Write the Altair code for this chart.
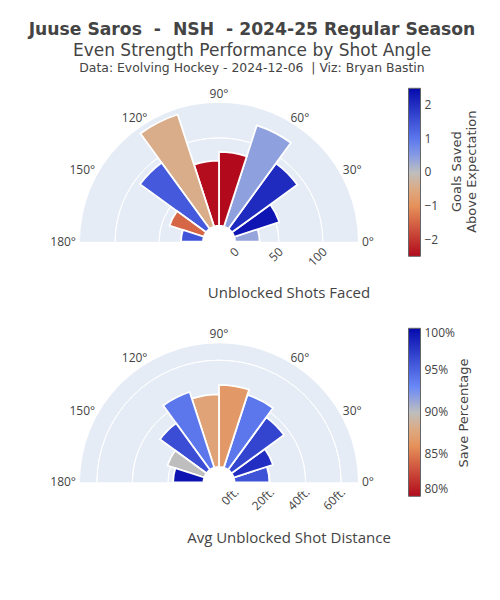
import math
import altair as alt
import pandas as pd

# ---------------- data ----------------
angles = [9, 27, 45, 63, 81, 99, 117, 135, 153, 171]          # bin centres (deg)
shots = [28, 54, 92, 121, 84, 74, 134, 93, 41, 25]            # unblocked shots faced
gsax = [0.37, 2.35, 2.05, 0.42, -2.5, -2.45, -0.45, 1.41, -1.48, 1.48]
distance = [19.6, 23.2, 36.5, 43.0, 46.1, 40.8, 44.7, 32.4, 21.8, 17.1]   # ft
save_pct = [0.960, 0.980, 0.968, 0.940, 0.866, 0.874, 0.940, 0.963, 0.900, 0.995]
half_bin = 9

angle_ticks = [0, 30, 60, 90, 120, 150, 180]
shot_ticks = [0, 50, 100]
dist_ticks = [0, 20, 40, 60]
shot_rmax = 140
dist_rmax = 69.5

scale_colors = ["rgb(178,10,28)", "rgb(230,145,90)", "rgb(220,170,132)",
                "rgb(190,190,190)", "rgb(106,137,247)", "rgb(5,10,172)"]
gsax_stops = [-2.5, -1.0, -0.5, 0.0, 0.75, 2.5]
sv_stops = [0.80, 0.86, 0.88, 0.90, 0.93, 1.00]
gsax_legend_values = [-2, -1, 0, 1, 2]
sv_legend_values = [0.80, 0.85, 0.90, 0.95, 1.00]

NB = "\u00a0"
title_lines = ["Juuse Saros " + NB + "-" + NB + " NSH " + NB + "- 2024-25 Regular Season",
               "Even Strength Performance by Shot Angle",
               "Data: Evolving Hockey - 2024-12-06 " + NB + "| Viz: Bryan Bastin"]
colorbar_titles = ["Goals Saved", "Above Expectation", "Save Percentage"]

FONT = "Open Sans"
TFONT = "DejaVu Sans"
TXT = "#444444"
BG = "#e5ecf6"

theta_scale = alt.Scale(domain=[0, 180], range=[2.5 * math.pi, 1.5 * math.pi])


def panel(cx, cy, r_inner, r_outer, rmax, df, val_field, col_field, col_stops,
          legend_y, legend_values, legend_fmt, grid_ticks, tick_suffix, axis_title,
          axis_title_y):
    rscale = alt.Scale(type="linear", domain=[0, rmax], range=[r_inner, r_outer])
    cxy = dict(x=alt.value(cx), y=alt.value(cy))

    bg = alt.Chart(pd.DataFrame({"lo": [angle_ticks[0]], "hi": [angle_ticks[-1]],
                                 "rmax": [rmax]})).transform_calculate(
        r0="0").mark_arc(color=BG).encode(
        theta=alt.Theta("lo:Q", scale=theta_scale),
        theta2="hi:Q",
        radius=alt.Radius("rmax:Q", scale=rscale),
        radius2="r0:Q",
        **cxy)

    grid = alt.Chart(pd.DataFrame({"r": grid_ticks[1:]})).transform_calculate(
        lo=str(angle_ticks[0]), hi=str(angle_ticks[-1])).mark_arc(
        fillOpacity=0, stroke="white", strokeWidth=1).encode(
        theta=alt.Theta("lo:Q", scale=theta_scale),
        theta2="hi:Q",
        radius=alt.Radius("r:Q", scale=rscale),
        radius2="r:Q",
        **cxy)

    bars = alt.Chart(df).transform_calculate(
        a0=f"datum.angle - {half_bin}", a1=f"datum.angle + {half_bin}", r0="0"
    ).mark_arc(stroke="white", strokeWidth=1.8).encode(
        theta=alt.Theta("a0:Q", scale=theta_scale),
        theta2="a1:Q",
        radius=alt.Radius(f"{val_field}:Q", scale=rscale),
        radius2="r0:Q",
        color=alt.Color(f"{col_field}:Q",
                        scale=alt.Scale(domain=col_stops, range=scale_colors,
                                        interpolate="rgb", clamp=True),
                        legend=alt.Legend(orient="none", legendX=400.5, legendY=legend_y,
                                          direction="vertical", title=None,
                                          gradientLength=168, gradientThickness=12,
                                          gradientStrokeColor="#666", gradientStrokeWidth=1,
                                          values=legend_values, format=legend_fmt,
                                          labelFont=FONT, labelFontSize=12,
                                          labelColor=TXT, labelOffset=4)),
        **cxy)

    adf = pd.DataFrame({"a": angle_ticks})
    lab_layers = []
    for cond, align, base, dy in [("datum.a < 90", "left", "middle", 0),
                                  ("datum.a == 90", "center", "bottom", 2),
                                  ("datum.a > 90", "right", "middle", 0)]:
        lab_layers.append(
            alt.Chart(adf).transform_filter(cond).transform_calculate(
                lab="datum.a + '°'").mark_text(
                align=align, baseline=base, dy=dy, font=FONT, fontSize=12, color=TXT
            ).encode(theta=alt.Theta("a:Q", scale=theta_scale), radius=alt.value(r_outer + 4),
                     text="lab:N", **cxy))

    rticks = alt.Chart(pd.DataFrame({"r": grid_ticks})).transform_calculate(
        a=str(angle_ticks[0]), lab=f"datum.r + '{tick_suffix}'").mark_text(
        angle=315, align="right", baseline="middle", dx=-4.2, dy=7.1,
        font=FONT, fontSize=12, color=TXT).encode(
        theta=alt.Theta("a:Q", scale=theta_scale),
        radius=alt.Radius("r:Q", scale=rscale),
        text="lab:N", **cxy)

    atitle = alt.Chart(pd.DataFrame({"t": [axis_title]})).mark_text(
        font=FONT, fontSize=15, color=TXT, align="center", baseline="middle").encode(
        x=alt.value(281), y=alt.value(axis_title_y), text="t:N")

    return alt.layer(bg, grid, bars, *lab_layers, rticks, atitle)


df_top = pd.DataFrame({"angle": angles, "shots": shots, "gsax": gsax})
df_bot = pd.DataFrame({"angle": angles, "dist": distance, "sv": save_pct})

top = panel(211, 233.7, 16, 139, shot_rmax, df_top, "shots", "gsax", gsax_stops,
            80.3, gsax_legend_values, "d", shot_ticks, "", "Unblocked Shots Faced", 284.5)
bot = panel(211, 474.3, 15.5, 139, dist_rmax, df_bot, "dist", "sv", sv_stops,
            320.3, sv_legend_values, ".0%", dist_ticks, "ft.", "Avg Unblocked Shot Distance",
            530)

titles_df = pd.DataFrame({"t": title_lines, "k": [0, 1, 2]})
title_layers = []
for k, (size, weight, yy) in enumerate([(17.2, "bold", 22), (17, "normal", 42.5),
                                        (12.4, "normal", 59.5)]):
    title_layers.append(alt.Chart(titles_df).transform_filter(f"datum.k == {k}").mark_text(
        font=TFONT, fontSize=size, fontWeight=weight, color=TXT,
        align="center", baseline="middle").encode(
        x=alt.value(244), y=alt.value(yy), text="t:N"))

cb_df = pd.DataFrame({"t": colorbar_titles, "k": [0, 1, 2]})
cb_layers = []
for k, (xx, yy) in enumerate([(449, 163.7), (464, 163.7), (456, 405)]):
    cb_layers.append(alt.Chart(cb_df).transform_filter(f"datum.k == {k}").mark_text(
        font=TFONT, fontSize=13, color=TXT, angle=270, align="center", baseline="middle"
    ).encode(x=alt.value(xx), y=alt.value(yy), text="t:N"))

chart = alt.layer(top, bot, *title_layers, *cb_layers).resolve_scale(
    radius="independent", color="independent"
).properties(width=484, height=584, padding=0, autosize="none",
             background="white").configure_view(stroke=None)

chart.save("out.html", embed_options={"renderer": "svg", "actions": False})
